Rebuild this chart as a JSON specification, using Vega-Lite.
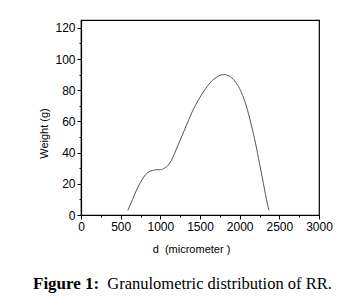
{
  "$schema": "https://vega.github.io/schema/vega-lite/v6.json",
  "width": 238,
  "height": 195,
  "autosize": {"type": "none"},
  "padding": {"left": 81, "top": 20, "right": 36, "bottom": 92},
  "background": "white",
  "config": {
    "view": {"stroke": "black", "strokeWidth": 1.2},
    "font": "Liberation Sans",
    "axis": {
      "domainColor": "black", "domainWidth": 1.2, "tickColor": "black", "tickWidth": 1,
      "labelColor": "black", "labelFont": "Liberation Sans", "labelFontSize": 12,
      "titleColor": "black", "titleFont": "Liberation Sans", "titleFontSize": 11, "titleFontWeight": "normal",
      "grid": false
    }
  },
  "title": {
    "text": "Figure 1:",
    "subtitle": "\u200b\u2003\u2003\u2003\u2003\u2002Granulometric distribution of RR.",
    "orient": "bottom",
    "anchor": "start",
    "frame": "group",
    "dx": -48,
    "offset": 22,
    "font": "Liberation Serif",
    "fontSize": 17,
    "fontWeight": "bold",
    "color": "black",
    "subtitleFont": "Liberation Serif",
    "subtitleFontSize": 16.5,
    "subtitleFontWeight": "normal",
    "subtitleColor": "black",
    "subtitlePadding": -17
  },
  "data": {
    "values": [
      {"d": 590, "w": 3}, {"d": 650, "w": 10}, {"d": 700, "w": 16}, {"d": 750, "w": 21},
      {"d": 800, "w": 25}, {"d": 850, "w": 27.5}, {"d": 900, "w": 28.5}, {"d": 950, "w": 29},
      {"d": 1000, "w": 29}, {"d": 1050, "w": 30}, {"d": 1100, "w": 32}, {"d": 1150, "w": 36},
      {"d": 1200, "w": 42}, {"d": 1250, "w": 48}, {"d": 1300, "w": 54}, {"d": 1350, "w": 60},
      {"d": 1400, "w": 66}, {"d": 1450, "w": 71}, {"d": 1500, "w": 75.5}, {"d": 1550, "w": 79.5},
      {"d": 1600, "w": 83}, {"d": 1650, "w": 86}, {"d": 1700, "w": 88}, {"d": 1750, "w": 89.5},
      {"d": 1800, "w": 90}, {"d": 1850, "w": 89.5}, {"d": 1900, "w": 88}, {"d": 1950, "w": 85},
      {"d": 2000, "w": 81}, {"d": 2050, "w": 75}, {"d": 2100, "w": 67}, {"d": 2150, "w": 57},
      {"d": 2200, "w": 46}, {"d": 2250, "w": 33}, {"d": 2300, "w": 20}, {"d": 2350, "w": 7},
      {"d": 2370, "w": 3}
    ]
  },
  "layer": [
    {
      "mark": {"type": "line", "color": "#555555", "strokeWidth": 1, "interpolate": "monotone"},
      "encoding": {
        "x": {"field": "d", "type": "quantitative", "scale": {"domain": [0, 3000], "nice": false},
          "axis": {"orient": "bottom", "values": [0, 500, 1000, 1500, 2000, 2500, 3000], "format": "d", "tickSize": 4, "labelPadding": 2, "title": "d\u00a0 (micrometer )", "titlePadding": 11, "titleX": 110, "labelFlush": false, "labelOverlap": false}},
        "y": {"field": "w", "type": "quantitative", "scale": {"domain": [0, 125], "nice": false},
          "axis": {"orient": "left", "values": [0, 20, 40, 60, 80, 100, 120], "format": "d", "tickSize": 4, "labelPadding": 2, "title": "Weight (g)", "titlePadding": 5, "titleY": 113, "labelFlush": false, "labelOverlap": false}}
      }
    },
    {
      "mark": {"type": "line", "strokeOpacity": 0},
      "encoding": {
        "x": {"field": "d", "type": "quantitative", "scale": {"domain": [0, 3000], "nice": false},
          "axis": {"orient": "bottom", "values": [250, 750, 1250, 1750, 2250, 2750], "tickSize": 2, "labels": false, "domain": false, "title": null}},
        "y": {"field": "w", "type": "quantitative", "scale": {"domain": [0, 125], "nice": false},
          "axis": {"orient": "left", "values": [10, 30, 50, 70, 90, 110], "tickSize": 2, "labels": false, "domain": false, "title": null}}
      }
    }
  ],
  "resolve": {"axis": {"x": "independent", "y": "independent"}}
}
